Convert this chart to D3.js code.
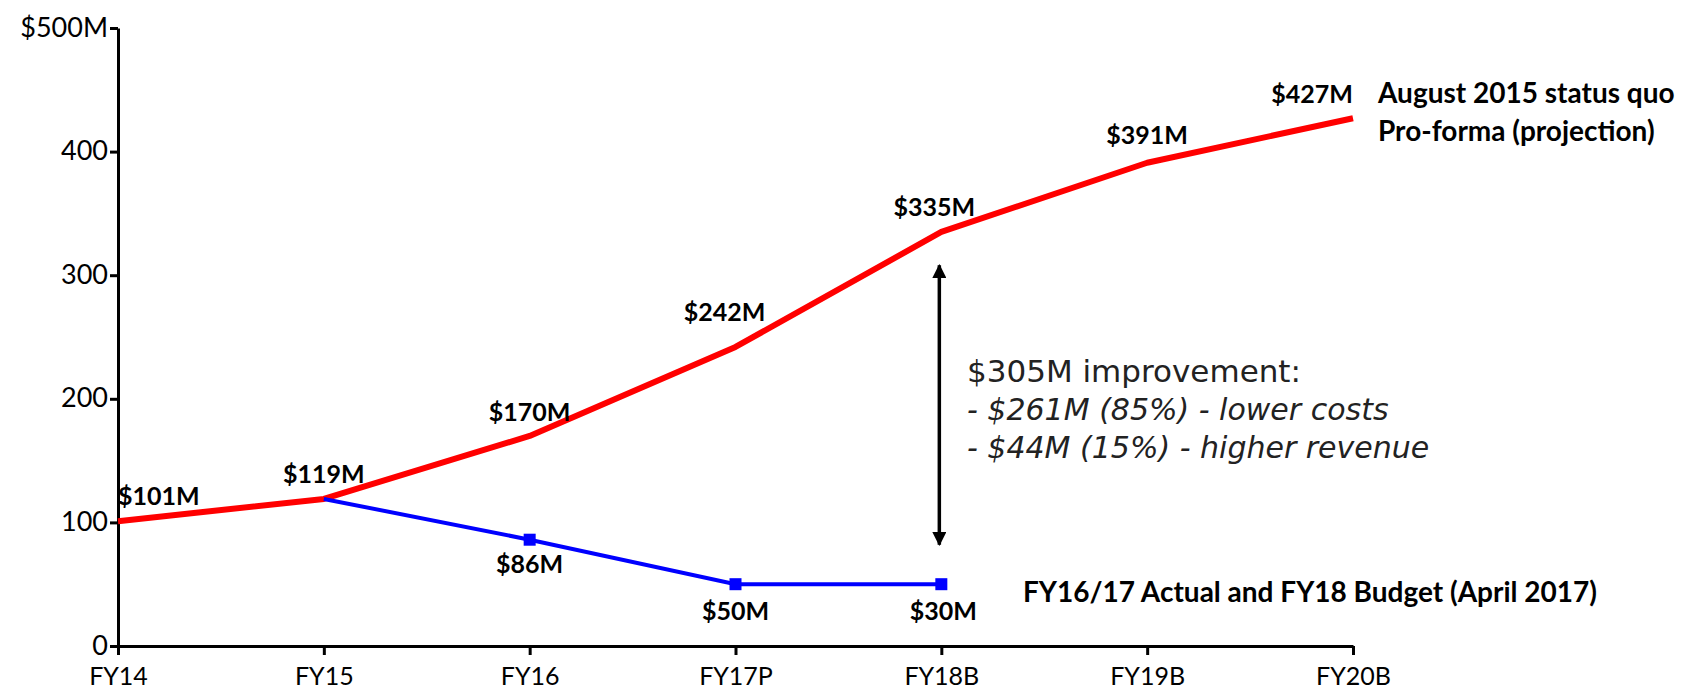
<!DOCTYPE html>
<html><head><meta charset="utf-8">
<script src="https://cdn.jsdelivr.net/npm/d3@7/dist/d3.min.js"></script>
<style>
body{margin:0;background:#fff;}
svg{display:block;}
</style></head>
<body>
<script>
const categories = ["FY14","FY15","FY16","FY17P","FY18B","FY19B","FY20B"];
const statusQuoValues = [101,119,170,242,335,391,427];
const statusQuoLabels = ["$101M","$119M","$170M","$242M","$335M","$391M","$427M"];
const actualCats = ["FY15","FY16","FY17P","FY18B"];
const actualValues = [119,86,50,50];
const actualLabels = [null,"$86M","$50M","$30M"];
const yTicks = [0,100,200,300,400,500];
const seriesNames = ["August 2015 status quo","Pro-forma (projection)"];
const actualName = "FY16/17 Actual and FY18 Budget (April 2017)";
const annotation = ["$305M improvement:","- $261M (85%) - lower costs","- $44M (15%) - higher revenue"];

const W=1693,H=691;
const svg=d3.select("body").append("svg").attr("width",W).attr("height",H);
const x=d3.scalePoint().domain(categories).range([118,1353]);
const y=d3.scaleLinear().domain([0,500]).range([646,28]);
const bodyFont="Lato, 'Open Sans', sans-serif";

// axes
const yAxis=d3.axisLeft(y).tickValues(yTicks).tickSize(8).tickSizeOuter(0)
  .tickFormat(d=>d===500?"$500M":d);
const gy=svg.append("g").attr("transform","translate(118,0)").call(yAxis);
const xAxis=d3.axisBottom(x).tickSize(9).tickSizeOuter(0);
const gx=svg.append("g").attr("transform","translate(0,646)").call(xAxis);
[gx,gy].forEach(g=>{
  g.select(".domain").attr("stroke","#000").attr("stroke-width",3);
  g.selectAll(".tick line").attr("stroke","#000").attr("stroke-width",3);
  g.selectAll("text").attr("fill","#000").style("font-family",bodyFont).style("font-size","27px");
});
gy.selectAll("text").attr("x",-10).attr("dy","0.3em");
gx.selectAll("text").style("font-size","25px").attr("y",21).attr("dy","0.71em");

// red line
const line=d3.line().x(d=>x(d[0])).y(d=>y(d[1]));
svg.append("path").datum(categories.map((c,i)=>[c,statusQuoValues[i]]))
  .attr("d",line).attr("fill","none").attr("stroke","#ff0000").attr("stroke-width",6)
  .attr("stroke-linejoin","round");

// blue line
const blueData=actualCats.map((c,i)=>({cat:c,v:actualValues[i],label:actualLabels[i]}));
svg.append("path").datum(blueData.map(d=>[d.cat,d.v])).attr("d",line).attr("fill","none")
  .attr("stroke","#0000ff").attr("stroke-width",4);
svg.selectAll("rect.mk").data(blueData.slice(1)).enter().append("rect")
  .attr("x",d=>x(d.cat)-6).attr("y",d=>y(d.v)-6).attr("width",12).attr("height",12)
  .attr("fill","#0000ff");

// red labels
const redDx=[0,0,0,-11,-7,0,0];
const redDy=[-16,-16,-15,-26,-16,-19,-15];
const redAnchor=["start","middle","middle","middle","middle","middle","end"];
svg.selectAll("text.rl").data(statusQuoValues).enter().append("text")
  .attr("x",(d,i)=>x(categories[i])+redDx[i]).attr("y",(d,i)=>y(d)+redDy[i])
  .attr("text-anchor",(d,i)=>redAnchor[i])
  .style("font-family",bodyFont).style("font-weight","bold").style("font-size","25px")
  .text((d,i)=>statusQuoLabels[i]);

// blue labels
const blueDy={FY16:33,FY17P:36,FY18B:36};
const blueDx={FY16:0,FY17P:0,FY18B:2};
svg.selectAll("text.bl").data(blueData.filter(d=>d.label)).enter().append("text")
  .attr("x",d=>x(d.cat)+blueDx[d.cat]).attr("y",d=>y(d.v)+blueDy[d.cat])
  .attr("text-anchor","middle")
  .style("font-family",bodyFont).style("font-weight","bold").style("font-size","25px")
  .text(d=>d.label);

// legend texts
const leg=svg.append("text")
  .style("font-family",bodyFont).style("font-weight","bold").style("font-size","28px");
leg.append("tspan").attr("x",1378).attr("y",103).text(seriesNames[0]);
leg.append("tspan").attr("x",1378).attr("y",141).text(seriesNames[1]);
svg.append("text").attr("x",1023).attr("y",602)
  .style("font-family",bodyFont).style("font-weight","bold").style("font-size","28px")
  .text(actualName);

// arrow annotation
const defs=svg.append("defs");
defs.append("marker").attr("id","ah").attr("viewBox","0 0 10 10").attr("refX",9).attr("refY",5)
  .attr("markerWidth",4).attr("markerHeight",4).attr("orient","auto-start-reverse")
  .attr("markerUnits","strokeWidth")
  .append("path").attr("d","M0,0 L10,5 L0,10 z").attr("fill","#000");
const ax=x("FY18B")-2;
svg.append("line").attr("x1",ax).attr("x2",ax).attr("y1",y(308)).attr("y2",y(82))
  .attr("stroke","#000").attr("stroke-width",3.5)
  .attr("marker-start","url(#ah)").attr("marker-end","url(#ah)");

const ann=svg.append("text").style("font-family","'DejaVu Sans', Verdana, sans-serif")
  .attr("fill","#222");
annotation.forEach((t,i)=>{
  ann.append("tspan").attr("x",967).attr("y",382+i*38)
    .style("font-style",i?"italic":"normal").style("font-size",i?"30px":"31px").text(t);
});
</script>
</body></html>
